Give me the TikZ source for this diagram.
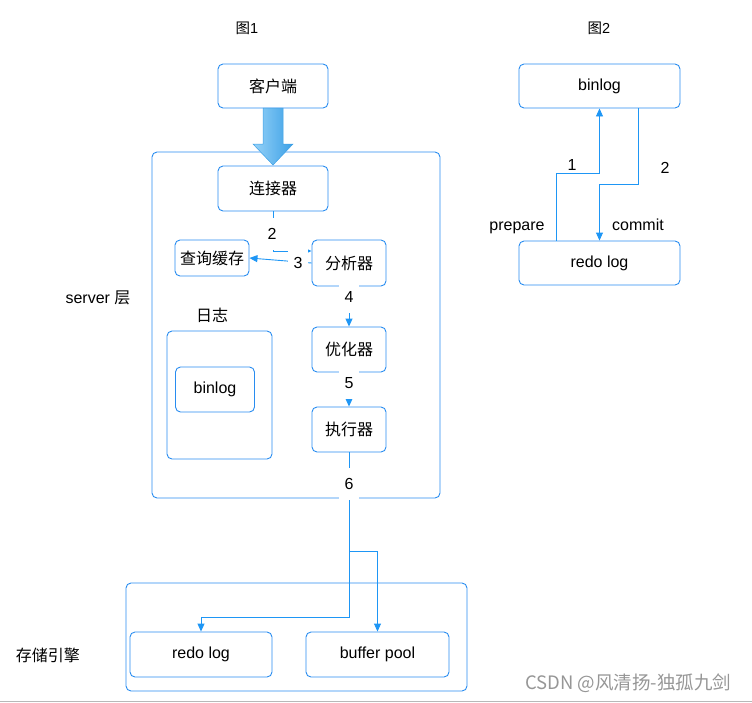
\documentclass[tikz,border=0pt]{standalone}
\usepackage{fontspec}
\setmainfont{Liberation Sans}
\newfontfamily\cjk{Noto Sans CJK SC}
\usetikzlibrary{arrows.meta}
\definecolor{bl}{RGB}{40,140,240}
\definecolor{ln}{RGB}{30,150,245}
\definecolor{arlight}{RGB}{150,210,248}
\definecolor{ardark}{RGB}{60,160,230}
\definecolor{wm}{RGB}{150,150,150}
\tikzset{
  box/.style={draw=bl, rounded corners=5pt, line width=0.9pt, inner sep=0pt, align=center, font=\fontsize{16}{19}\selectfont},
  conn/.style={draw=ln, line width=0.9pt, -{Triangle[width=7pt,length=8pt]}},
  lbl/.style={fill=white, minimum width=20pt, minimum height=32pt, inner sep=0pt, font=\fontsize{16}{19}\selectfont},
  txt/.style={inner sep=0pt, font=\fontsize{16}{19}\selectfont},
}
\begin{document}
\begin{tikzpicture}[x=1pt,y=-1pt]
\useasboundingbox (0,0) rectangle (752,702);
% titles
\node[txt, font=\fontsize{14.5}{17}\selectfont] (t1) at (247,28) {{\cjk 图}1};
\node[txt, font=\fontsize{14.5}{17}\selectfont] (t2) at (599,28) {{\cjk 图}2};
% containers
\node[box, minimum width=288pt, minimum height=346pt] (server) at (296,325) {};
\node[box, minimum width=341pt, minimum height=108pt] (engine) at (296.5,637) {};
\node[box, minimum width=105pt, minimum height=128pt] (logbox) at (219.5,395) {};
% boxes figure 1
\node[box, minimum width=110pt, minimum height=44pt] (client) at (273,86) {\cjk 客户端};
\node[box, minimum width=110pt, minimum height=45pt] (conn) at (273,188.5) {\cjk 连接器};
\node[box, minimum width=74pt, minimum height=36pt] (cache) at (212,258) {\cjk 查询缓存};
\node[box, minimum width=74pt, minimum height=46pt] (ana) at (349,263) {\cjk 分析器};
\node[box, minimum width=74pt, minimum height=45pt] (opt) at (349,349.5) {\cjk 优化器};
\node[box, minimum width=74pt, minimum height=45pt] (exe) at (349,429.5) {\cjk 执行器};
\node[box, minimum width=79pt, minimum height=45pt] (bin1) at (215,389.5) {binlog};
\node[box, minimum width=142pt, minimum height=45pt] (redo1) at (201,654.5) {redo log};
\node[box, minimum width=143pt, minimum height=45pt] (buf) at (377.5,654.5) {buffer pool};
% side labels
\node[txt] (logl) at (212,315) {\cjk 日志};
\node[txt] (srvl) at (98,298) {server {\cjk 层}};
\node[txt] (engl) at (48,655) {\cjk 存储引擎};
% big arrow
\shade[left color=arlight, right color=ardark, draw=ardark, line width=0.5pt]
  (263,108) -- (283,108) -- (283,144) -- (293,144) -- (273,165) -- (253,144) -- (263,144) -- cycle;
% connectors figure 1
\coordinate (b2) at (273,251);
\draw[conn] (conn.south) -- (b2) -- (ana.west |- b2);
\draw[conn] (ana.west) -- (cache.east);
\draw[conn] (ana.south) -- (opt.north);
\draw[conn] (opt.south) -- (exe.north);
\coordinate (s1) at (349,551);
\coordinate (s2) at (349,617);
\draw[conn] (exe.south) -- (s2) -| (redo1.north);
\draw[conn] (s1) -| (buf.north);
% edge labels
\node[lbl] (l2) at (272,234) {2};
\node[lbl] (l3) at (298,263) {3};
\node[lbl] (l4) at (349,297) {4};
\node[lbl] (l5) at (349,383) {5};
\node[lbl] (l6) at (349,484) {6};
% figure 2
\node[box, minimum width=161pt, minimum height=44pt] (bin2) at (599.5,86) {binlog};
\node[box, minimum width=161pt, minimum height=44pt] (redo2) at (599.5,263) {redo log};
\coordinate (p1) at (556,173);
\coordinate (p2) at (638,184);
\draw[conn] (redo2.north -| p1) -- (p1) -| (bin2.south);
\draw[conn] (bin2.south -| p2) -- (p2) -| (redo2.north);
\node[txt] (n1) at (572,165) {1};
\node[txt] (n2) at (665,168) {2};
\node[txt] (prep) at (517,228) {prepare};
\node[txt] (comm) at (638,225) {commit};
% watermark
\node[inner sep=0pt, text=wm, font=\fontsize{18.5}{21}\selectfont\cjk] (wmk) at (628,683) {CSDN @风清扬-独孤九剑};
\draw[draw=black!28, line width=1pt] (0,701) -- (752,701);
\end{tikzpicture}
\end{document}
